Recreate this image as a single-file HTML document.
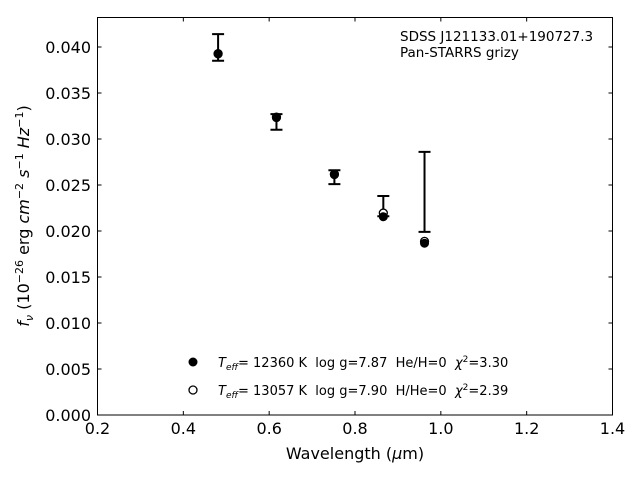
<!DOCTYPE html>
<html><head><meta charset="utf-8">
<style>
body{margin:0;background:#fff;}
svg{display:block;font-family:"DejaVu Sans","Liberation Sans",sans-serif;}
text{white-space:pre;}
</style></head>
<body>
<svg id="chart" width="640" height="480" viewBox="0 0 640 480">
  <rect x="0" y="0" width="640" height="480" fill="#fff"/>
  <g id="plot"></g>
  <rect x="97.5" y="17.5" width="515" height="397.5" fill="none" stroke="#000" stroke-width="1"/>
  <text x="400" y="41" font-size="13.5">SDSS J121133.01+190727.3</text>
  <text x="400" y="57" font-size="13.5">Pan-STARRS grizy</text>
  <text x="355" y="459" font-size="16" text-anchor="middle">Wavelength (<tspan font-style="italic">μ</tspan>m)</text>
  <text transform="translate(29,216) rotate(-90)" font-size="16" text-anchor="middle"><tspan font-style="italic">f</tspan><tspan font-style="italic" font-size="11" dy="4">ν</tspan><tspan dy="-4"> (10</tspan><tspan font-size="11" dy="-6">−26</tspan><tspan dy="6"> erg </tspan><tspan font-style="italic">cm</tspan><tspan font-size="11" dy="-6">−2</tspan><tspan dy="6"> </tspan><tspan font-style="italic">s</tspan><tspan font-size="11" dy="-6">−1</tspan><tspan dy="6"> </tspan><tspan font-style="italic">Hz</tspan><tspan font-size="11" dy="-6">−1</tspan><tspan dy="6">)</tspan></text>
  <g>
    <circle cx="193" cy="362" r="4.5" fill="#000"/>
    <text x="218" y="367" font-size="13" xml:space="preserve"><tspan font-style="italic">T</tspan><tspan font-style="italic" font-size="9" dy="3">eff</tspan><tspan dy="-3">= 12360 K  log g=7.87  He/H=0  </tspan><tspan font-style="italic">χ</tspan><tspan font-size="9" dy="-5">2</tspan><tspan dy="5">=3.30</tspan></text>
    <circle cx="193" cy="390" r="4" fill="#fff" stroke="#000" stroke-width="1.3"/>
    <text x="218" y="395" font-size="13" xml:space="preserve"><tspan font-style="italic">T</tspan><tspan font-style="italic" font-size="9" dy="3">eff</tspan><tspan dy="-3">= 13057 K  log g=7.90  H/He=0  </tspan><tspan font-style="italic">χ</tspan><tspan font-size="9" dy="-5">2</tspan><tspan dy="5">=2.39</tspan></text>
  </g>
</svg>
<script>
const wavelengths=[0.481,0.617,0.752,0.866,0.962];
const obsFlux=[0.03995,0.03185,0.02585,0.0227,0.02425];
const obsErr=[0.00145,0.00085,0.00075,0.0011,0.00435];
const model1Flux=[0.03924,0.03232,0.02612,0.02155,0.01867];
const model2Flux=[0.03928,0.03238,0.02618,0.02195,0.01887];
const xTicks=[0.2,0.4,0.6,0.8,1.0,1.2,1.4];
const xTickLabels=["0.2","0.4","0.6","0.8","1.0","1.2","1.4"];
const yTicks=[0,0.005,0.01,0.015,0.02,0.025,0.03,0.035,0.04];
const yTickLabels=["0.000","0.005","0.010","0.015","0.020","0.025","0.030","0.035","0.040"];
const NS="http://www.w3.org/2000/svg";
const X=v=>97.5+(v-0.2)/1.2*515;
const Y=v=>415-v/0.04*368;
const g=document.getElementById('plot');
function mk(t,a){const e=document.createElementNS(NS,t);for(const k in a)e.setAttribute(k,a[k]);g.appendChild(e);return e;}
xTicks.forEach((v,i)=>{
  const x=X(v);
  const t1=mk('line',{x1:x,x2:x,y1:415,y2:411,stroke:'#000'});
  
  
  const t2=mk('line',{x1:x,x2:x,y1:17.5,y2:21.5,stroke:'#000'});
  
  
  const l=mk('text',{x:x,y:434,'font-size':16,'text-anchor':'middle'});
  l.textContent=xTickLabels[i];
  
  
});
yTicks.forEach((v,i)=>{
  const y=Y(v);
  const t1=mk('line',{x1:97.5,x2:101.5,y1:y,y2:y,stroke:'#000'});
  
  
  const t2=mk('line',{x1:612.5,x2:608.5,y1:y,y2:y,stroke:'#000'});
  
  
  const l=mk('text',{x:91,y:y+6,'font-size':16,'text-anchor':'end'});
  l.textContent=yTickLabels[i];
  
  
});
wavelengths.forEach((w,i)=>{
  const x=X(w),yt=Y(obsFlux[i]+obsErr[i]),yb=Y(obsFlux[i]-obsErr[i]);
  const eb=mk('path',{d:`M${x},${yt}V${yb}M${x-6},${yt}H${x+6}M${x-6},${yb}H${x+6}`,stroke:'#000','stroke-width':2,fill:'none'});
  
  
  const c2=mk('circle',{cx:x,cy:Y(model2Flux[i]),r:4,fill:'#fff',stroke:'#000','stroke-width':1.3});
  
  
  const c1=mk('circle',{cx:x,cy:Y(model1Flux[i]),r:4.5,fill:'#000'});
  
  
});
</script>
</body></html>
